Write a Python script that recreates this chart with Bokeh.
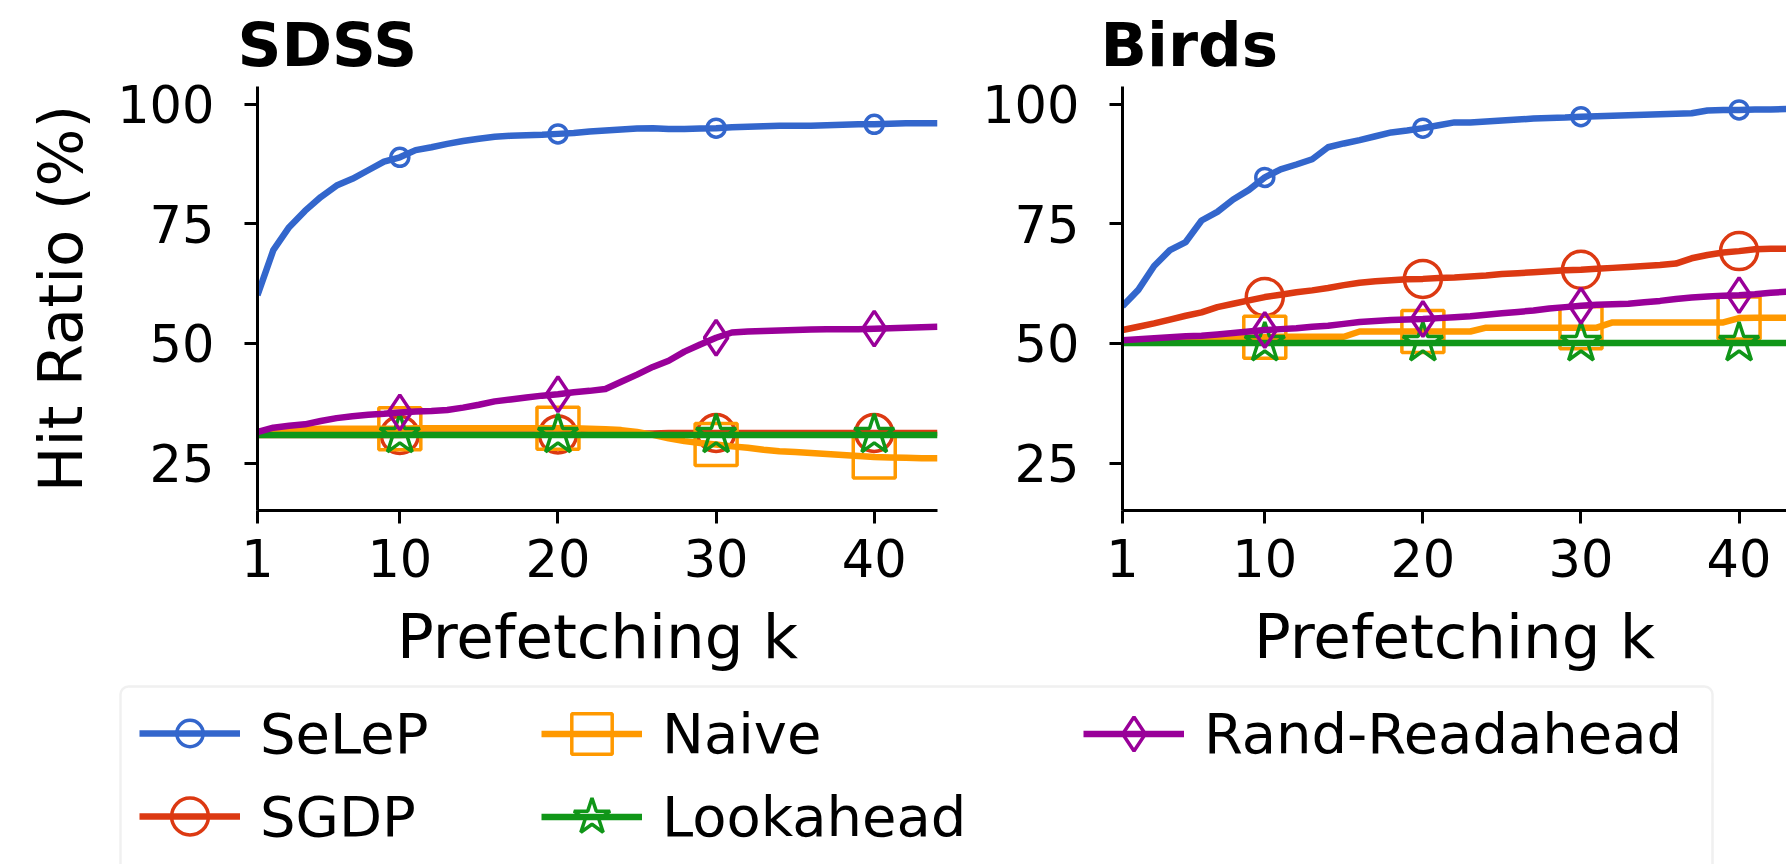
from bokeh.plotting import figure
from bokeh.layouts import column, row
from bokeh.models import Range1d, FixedTicker, Legend, LegendItem, BoxAnnotation, ColumnDataSource
from bokeh.embed import file_html
from bokeh.resources import INLINE

# ---------------- data ----------------
k_values = list(range(1, 45))
marker_k = [10, 20, 30, 40]
x_ticks = [1, 10, 20, 30, 40]
y_ticks = [25, 50, 75, 100]
methods = ["SeLeP", "SGDP", "Naive", "Lookahead", "Rand-Readahead"]
panel_titles = ["SDSS", "Birds"]

sdss_selep = [60.1, 69.5, 74.3, 77.7, 80.6, 83.0, 84.4, 86.2, 88.0, 88.9,
              90.4, 91.0, 91.7, 92.3, 92.8, 93.2, 93.4, 93.5, 93.6, 93.8,
              94.0, 94.3, 94.5, 94.7, 94.9, 95.0, 94.8, 94.8, 94.9, 95.0,
              95.2, 95.3, 95.4, 95.5, 95.5, 95.5, 95.6, 95.7, 95.8, 95.8,
              95.9, 96.0, 96.0, 96.0]
sdss_sgdp = [30.9, 30.9, 30.9, 30.9, 30.9, 30.9, 30.9, 30.9, 30.9, 30.9,
             31.0, 31.0, 31.0, 31.0, 31.0, 31.0, 31.0, 31.0, 31.0, 31.0,
             31.1, 31.1, 31.1, 31.2, 31.2, 31.2, 31.3, 31.3, 31.3, 31.3,
             31.3, 31.3, 31.3, 31.3, 31.3, 31.3, 31.3, 31.3, 31.3, 31.3,
             31.3, 31.3, 31.3, 31.3]
sdss_naive = [31.5, 31.8, 32.0, 32.1, 32.2, 32.2, 32.2, 32.2, 32.2, 32.2,
              32.3, 32.3, 32.3, 32.3, 32.3, 32.3, 32.3, 32.3, 32.3, 32.3,
              32.3, 32.2, 32.1, 31.9, 31.5, 30.9, 30.2, 29.6, 29.2, 28.9,
              28.5, 28.2, 27.8, 27.5, 27.3, 27.1, 26.9, 26.7, 26.5, 26.3,
              26.2, 26.1, 26.0, 26.0]
sdss_lookahead = [30.9, 30.9, 30.9, 30.9, 30.9, 30.9, 30.9, 30.9, 30.9, 30.9,
                  30.9, 30.9, 30.9, 30.9, 30.9, 30.9, 30.9, 30.9, 30.9, 30.9,
                  30.9, 30.9, 30.9, 30.9, 30.9, 30.9, 30.9, 30.9, 30.9, 30.9,
                  30.9, 30.9, 30.9, 30.9, 30.9, 30.9, 30.9, 30.9, 30.9, 30.9,
                  30.9, 30.9, 30.9, 30.9]
sdss_rand = [31.5, 32.4, 32.8, 33.1, 33.8, 34.4, 34.8, 35.1, 35.3, 35.6,
             35.8, 35.9, 36.1, 36.6, 37.2, 37.9, 38.3, 38.7, 39.1, 39.4,
             39.8, 40.1, 40.5, 42.0, 43.5, 45.1, 46.4, 48.3, 49.8, 51.2,
             52.3, 52.5, 52.6, 52.7, 52.8, 52.9, 53.0, 53.0, 53.0, 53.1,
             53.2, 53.3, 53.4, 53.5]

birds_selep = [57.8, 61.2, 66.2, 69.5, 71.2, 75.7, 77.5, 80.1, 82.1, 84.7,
               86.4, 87.4, 88.5, 91.0, 91.8, 92.5, 93.3, 94.1, 94.5, 95.0,
               95.6, 96.2, 96.2, 96.4, 96.6, 96.8, 97.0, 97.1, 97.2, 97.4,
               97.5, 97.6, 97.7, 97.8, 97.9, 98.0, 98.1, 98.7, 98.8, 98.8,
               98.9, 98.9, 99.0, 99.0]
birds_sgdp = [52.8, 53.5, 54.2, 55.0, 55.8, 56.5, 57.6, 58.3, 59.0, 59.7,
              60.2, 60.7, 61.1, 61.6, 62.2, 62.7, 63.0, 63.2, 63.4, 63.5,
              63.7, 63.8, 64.0, 64.2, 64.5, 64.7, 64.9, 65.1, 65.3, 65.4,
              65.6, 65.8, 66.0, 66.2, 66.4, 66.7, 67.8, 68.5, 69.0, 69.3,
              69.7, 69.8, 69.8, 69.8]
birds_naive = [50.3, 50.4, 50.5, 50.6, 50.7, 50.8, 50.9, 51.0, 51.2, 51.3,
               51.4, 51.4, 51.4, 51.4, 51.4, 52.5, 52.5, 52.5, 52.5, 52.5,
               52.5, 52.5, 52.5, 53.3, 53.3, 53.3, 53.3, 53.3, 53.3, 53.3,
               53.3, 54.4, 54.4, 54.4, 54.4, 54.4, 54.4, 54.4, 54.4, 55.3,
               55.4, 55.4, 55.4, 55.4]
birds_lookahead = [50.1, 50.1, 50.1, 50.1, 50.1, 50.1, 50.1, 50.1, 50.1, 50.1,
                   50.1, 50.1, 50.1, 50.1, 50.1, 50.1, 50.1, 50.1, 50.1, 50.1,
                   50.1, 50.1, 50.1, 50.1, 50.1, 50.1, 50.1, 50.1, 50.1, 50.1,
                   50.1, 50.1, 50.1, 50.1, 50.1, 50.1, 50.1, 50.1, 50.1, 50.1,
                   50.1, 50.1, 50.1, 50.1]
birds_rand = [50.7, 50.9, 51.1, 51.3, 51.5, 51.6, 51.9, 52.2, 52.5, 52.8,
              53.0, 53.2, 53.5, 53.7, 54.1, 54.5, 54.7, 54.9, 55.0, 55.1,
              55.3, 55.5, 55.7, 56.0, 56.3, 56.6, 56.9, 57.3, 57.6, 57.9,
              58.1, 58.2, 58.3, 58.6, 58.9, 59.3, 59.6, 59.8, 60.0, 60.1,
              60.3, 60.6, 60.8, 61.0]

sdss = {"SeLeP": sdss_selep, "SGDP": sdss_sgdp, "Naive": sdss_naive,
        "Lookahead": sdss_lookahead, "Rand-Readahead": sdss_rand}
birds = {"SeLeP": birds_selep, "SGDP": birds_sgdp, "Naive": birds_naive,
         "Lookahead": birds_lookahead, "Rand-Readahead": birds_rand}

# ---------------- styles ----------------
FONT = "DejaVu Sans"
colors = {"SeLeP": "#3366cc", "SGDP": "#dc3912", "Naive": "#ff9900",
          "Lookahead": "#109618", "Rand-Readahead": "#990099"}
markers = {"SeLeP": "circle", "SGDP": "circle", "Naive": "square",
           "Lookahead": "star", "Rand-Readahead": "diamond"}
msizes = {"SeLeP": 18, "SGDP": 37, "Naive": 42, "Lookahead": 42, "Rand-Readahead": 35}

TOP_H = 680
FRAME_TOP = 84
FRAME_BOTTOM = 510
LINE_W = 6.5
MARK_W = 3.5


def make_panel(title, data, width, x_end, b_left, b_right, ylabel, t_offset):
    p = figure(width=width, height=TOP_H, x_range=Range1d(1, x_end),
               y_range=Range1d(15.1, 103.7), output_backend="svg",
               toolbar_location=None, min_border_left=b_left,
               min_border_right=b_right, min_border_top=FRAME_TOP,
               min_border_bottom=TOP_H - FRAME_BOTTOM)
    p.title.text = title
    p.title.text_font = FONT
    p.title.text_font_size = "61px"
    p.title.text_font_style = "bold"
    p.title.text_color = "black"
    p.title.align = "left"
    p.title.offset = t_offset
    p.title.standoff = 13
    p.outline_line_color = None
    p.xgrid.visible = False
    p.ygrid.visible = False
    for m in methods:
        ys = data[m]
        src = ColumnDataSource(dict(x=k_values, y=ys))
        p.line("x", "y", source=src, line_color=colors[m], line_width=LINE_W,
               line_join="round")
        idx = [i for i, kk in enumerate(k_values) if kk in marker_k]
        msrc = ColumnDataSource(dict(x=[k_values[i] for i in idx],
                                     y=[ys[i] for i in idx]))
        p.scatter("x", "y", source=msrc, marker=markers[m], size=msizes[m],
                  line_color=colors[m], line_width=MARK_W, fill_alpha=0)
    p.xaxis.ticker = FixedTicker(ticks=x_ticks)
    p.yaxis.ticker = FixedTicker(ticks=y_ticks)
    for ax in (p.xaxis[0], p.yaxis[0]):
        ax.major_tick_out = 13
        ax.major_tick_in = 0
        ax.minor_tick_out = 0
        ax.minor_tick_in = 0
        ax.axis_line_width = 3
        ax.axis_line_color = "black"
        ax.major_tick_line_width = 3
        ax.major_tick_line_color = "black"
        ax.major_label_text_font = FONT
        ax.major_label_text_font_size = "51px"
        ax.major_label_text_color = "black"
        ax.axis_label_text_font = FONT
        ax.axis_label_text_font_size = "61px"
        ax.axis_label_text_font_style = "normal"
        ax.axis_label_text_color = "black"
    p.xaxis.axis_label = "Prefetching k"
    p.xaxis.major_label_standoff = 15
    p.xaxis.axis_label_standoff = 21
    p.yaxis.major_label_standoff = 30
    p.yaxis.axis_label_standoff = 18
    if ylabel:
        p.yaxis.axis_label = ylabel
    return p


p1 = make_panel(panel_titles[0], sdss, 967, 44, 257, 30, "Hit Ratio (%)", -20)
p2 = make_panel(panel_titles[1], birds, 819, 43.0, 155, 0, None, -22)

# ---------------- legend strip ----------------
LEG_H = 864 - TOP_H
leg = figure(width=1786, height=LEG_H, x_range=Range1d(0, 1786),
             y_range=Range1d(0, LEG_H), output_backend="svg",
             toolbar_location=None, min_border=0,
             x_axis_location=None, y_axis_location=None)
leg.outline_line_color = None
leg.xgrid.visible = False
leg.ygrid.visible = False
leg.add_layout(BoxAnnotation(left=120, right=1712, top=LEG_H - 6, bottom=-60,
                             fill_color="white", fill_alpha=1,
                             line_color="#cccccc", line_width=2.5,
                             border_radius=8))

legend_x = {"SeLeP": 139, "SGDP": 139, "Naive": 541, "Lookahead": 541,
            "Rand-Readahead": 1083}
legend_row_center = {"SeLeP": 733 - TOP_H, "SGDP": 816 - TOP_H,
                     "Naive": 733 - TOP_H, "Lookahead": 816 - TOP_H,
                     "Rand-Readahead": 733 - TOP_H}
legend_gh = {"SeLeP": 66, "SGDP": 92, "Naive": 101, "Lookahead": 95,
             "Rand-Readahead": 85}

nan = float("nan")
for m in methods:
    src = ColumnDataSource(dict(x=[nan], y=[nan]))
    rl = leg.line("x", "y", source=src, line_color=colors[m], line_width=LINE_W)
    rm = leg.scatter("x", "y", source=src, marker=markers[m], size=msizes[m],
                     line_color=colors[m], line_width=MARK_W, fill_alpha=0)
    gh = legend_gh[m]
    y_loc = (LEG_H - legend_row_center[m]) - gh / 2
    lg = Legend(items=[LegendItem(label=m, renderers=[rl, rm], index=0)],
                location=(legend_x[m], y_loc), glyph_width=101,
                glyph_height=gh, label_height=gh, label_standoff=20,
                padding=0, margin=0, spacing=0, border_line_alpha=0,
                background_fill_alpha=0, label_text_font=FONT,
                label_text_font_size="56px", label_text_color="black")
    leg.add_layout(lg)

layout = column(row(p1, p2), leg)
open("out.html", "w").write(file_html(layout, INLINE))
